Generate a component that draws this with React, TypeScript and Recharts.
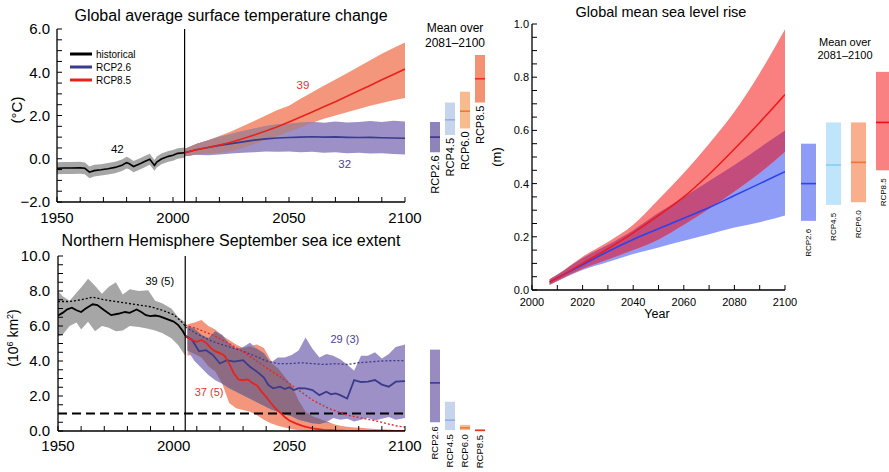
import React from 'react';
import { ComposedChart, Area, Line, Bar, XAxis, YAxis, ReferenceLine, ReferenceDot } from 'recharts';

const FONT = "'Liberation Sans', Arial, Helvetica, sans-serif";

// ---------- axis ticks ----------
const yearTicks = [1950, 1960, 1970, 1980, 1990, 2000, 2010, 2020, 2030, 2040, 2050, 2060, 2070, 2080, 2090, 2100];
const yearLabels = [1950, 2000, 2050, 2100];
const tempYTicks = [-2, -1.5, -1, -0.5, 0, 0.5, 1, 1.5, 2, 2.5, 3, 3.5, 4, 4.5, 5, 5.5, 6];
const tempYLabels = [-2, 0, 2, 4, 6];
const iceYTicks = [0, 0.5, 1, 1.5, 2, 2.5, 3, 3.5, 4, 4.5, 5, 5.5, 6, 6.5, 7, 7.5, 8, 8.5, 9, 9.5, 10];
const iceYLabels = [0, 2, 4, 6, 8, 10];
const seaXTicks = [2000, 2010, 2020, 2030, 2040, 2050, 2060, 2070, 2080, 2090, 2100];
const seaXLabels = [2000, 2020, 2040, 2060, 2080, 2100];
const seaYTicks = [0, 0.05, 0.1, 0.15, 0.2, 0.25, 0.3, 0.35, 0.4, 0.45, 0.5, 0.55, 0.6, 0.65, 0.7, 0.75, 0.8, 0.85, 0.9, 0.95, 1];
const seaYLabels = [0, 0.2, 0.4, 0.6, 0.8, 1];

// ---------- temperature ----------
const histYears = [1950, 1953, 1956, 1960, 1962, 1964, 1966, 1969, 1972, 1975, 1978, 1980, 1981, 1983, 1986, 1988, 1990, 1992, 1993, 1995, 1998, 2000, 2002, 2005];
const histMean = [-0.44, -0.43, -0.43, -0.42, -0.44, -0.62, -0.55, -0.51, -0.46, -0.40, -0.30, -0.18, -0.22, -0.36, -0.22, -0.12, -0.02, -0.31, -0.15, -0.01, 0.11, 0.16, 0.25, 0.28];
const histLo = [-0.72, -0.70, -0.71, -0.69, -0.72, -0.90, -0.82, -0.77, -0.73, -0.67, -0.57, -0.45, -0.49, -0.62, -0.48, -0.38, -0.28, -0.56, -0.40, -0.26, -0.14, -0.09, 0.00, 0.05];
const histHi = [-0.16, -0.15, -0.15, -0.14, -0.17, -0.36, -0.28, -0.25, -0.20, -0.14, -0.04, 0.09, 0.05, -0.10, 0.04, 0.14, 0.23, -0.06, 0.10, 0.24, 0.36, 0.41, 0.49, 0.52];

const futYears = [2005, 2010, 2015, 2020, 2025, 2030, 2035, 2040, 2045, 2050, 2055, 2060, 2065, 2070, 2075, 2080, 2085, 2090, 2095, 2100];
const t26Mean = [0.28, 0.42, 0.52, 0.62, 0.70, 0.78, 0.86, 0.92, 0.96, 0.98, 1.00, 1.02, 1.00, 1.01, 0.99, 0.98, 0.99, 0.97, 0.96, 0.95];
const t26Lo = [0.12, 0.18, 0.16, 0.20, 0.24, 0.28, 0.30, 0.33, 0.32, 0.34, 0.30, 0.32, 0.28, 0.30, 0.26, 0.28, 0.24, 0.26, 0.22, 0.20];
const t26Hi = [0.45, 0.68, 0.84, 1.02, 1.15, 1.28, 1.40, 1.52, 1.60, 1.62, 1.68, 1.70, 1.66, 1.72, 1.68, 1.70, 1.74, 1.70, 1.76, 1.72];
const t85Mean = [0.28, 0.42, 0.52, 0.64, 0.76, 0.92, 1.10, 1.28, 1.48, 1.70, 1.93, 2.16, 2.40, 2.64, 2.89, 3.14, 3.39, 3.65, 3.90, 4.15];
const t85Lo = [0.12, 0.20, 0.24, 0.28, 0.35, 0.50, 0.68, 0.88, 1.05, 1.25, 1.45, 1.66, 1.85, 2.00, 2.15, 2.30, 2.45, 2.58, 2.70, 2.81];
const t85Hi = [0.45, 0.68, 0.85, 1.05, 1.26, 1.50, 1.75, 2.00, 2.25, 2.45, 2.78, 3.08, 3.37, 3.66, 3.95, 4.25, 4.55, 4.85, 5.12, 5.38];

// ---------- sea ice ----------
const iceHistYears = [1950, 1952, 1954, 1956, 1958, 1960, 1962, 1965, 1967, 1970, 1973, 1976, 1979, 1981, 1984, 1986, 1988, 1990, 1992, 1994, 1996, 1998, 2000, 2002, 2004, 2005];
const iceHistMean = [6.6, 6.75, 6.95, 7.05, 6.9, 6.8, 7.0, 7.24, 7.2, 6.9, 6.62, 6.7, 6.8, 6.75, 6.94, 6.8, 6.62, 6.56, 6.6, 6.55, 6.45, 6.35, 6.25, 6.05, 5.7, 5.45];
const iceHistSubYears = [1950, 1955, 1960, 1965, 1970, 1975, 1980, 1985, 1990, 1995, 2000, 2003, 2005];
const iceHistSub = [7.4, 7.4, 7.5, 7.65, 7.5, 7.4, 7.3, 7.2, 7.1, 6.9, 6.65, 6.3, 6.0];
const iceHistBandYears = [1950, 1952, 1955, 1958, 1960, 1963, 1966, 1969, 1972, 1975, 1978, 1981, 1985, 1989, 1992, 1995, 1999, 2002, 2005];
const iceHistHi = [8.0, 7.7, 7.45, 7.9, 8.2, 8.7, 8.3, 7.85, 8.25, 8.5, 7.8, 8.1, 8.0, 8.05, 7.45, 7.3, 7.0, 6.5, 6.2];
const iceHistLo = [5.4, 5.5, 6.0, 6.2, 5.8, 6.25, 5.7, 6.0, 5.9, 5.7, 5.75, 6.0, 5.95, 5.85, 5.75, 5.6, 5.3, 4.9, 4.3];

const iceFutYears = [2006, 2009, 2012, 2015, 2018, 2021, 2024, 2027, 2030, 2033, 2036, 2039, 2042, 2045, 2048, 2051, 2054, 2057, 2060, 2063, 2066, 2069, 2072, 2075, 2078, 2081, 2084, 2087, 2090, 2093, 2096, 2100];
const i26Hi = [6.0, 5.85, 5.5, 5.3, 5.7, 5.5, 5.0, 4.7, 4.8, 5.05, 4.7, 4.45, 3.9, 4.2, 4.2, 4.35, 4.6, 5.35, 4.7, 4.2, 4.4, 4.3, 4.1, 3.8, 3.45, 4.3, 4.3, 4.5, 4.15, 4.4, 4.8, 4.95];
const i26Lo = [4.6, 4.0, 3.6, 3.2, 2.9, 2.7, 2.45, 2.25, 2.05, 1.85, 1.65, 1.45, 1.25, 1.1, 0.95, 0.85, 0.65, 0.55, 0.45, 0.4, 0.5, 0.75, 0.65, 0.7, 0.55, 0.65, 0.75, 0.6, 0.7, 0.8, 0.65, 0.75];
const i85Hi = [6.1, 6.2, 6.35, 6.0, 5.8, 5.45, 5.2, 4.95, 4.75, 4.85, 4.95, 4.75, 4.05, 3.6, 3.1, 2.6, 1.75, 1.1, 0.85, 0.7, 0.55, 0.4, 0.3, 0.25, 0.2, 0.18, 0.15, 0.12, 0.1, 0.08, 0.06, 0.05];
const i85Lo = [4.3, 4.4, 4.2, 3.7, 3.4, 2.7, 1.6, 1.3, 1.2, 1.1, 0.9, 0.65, 0.45, 0.3, 0.2, 0.1, 0.05, 0.02, 0, 0, 0, 0, 0, 0, 0, 0, 0, 0, 0, 0, 0, 0];

const i26Years = [2005, 2008, 2011, 2014, 2017, 2020, 2023, 2026, 2030, 2033, 2036, 2039, 2041, 2043, 2046, 2048, 2050, 2052, 2054, 2057, 2060, 2063, 2066, 2068, 2070, 2072, 2075, 2078, 2081, 2084, 2087, 2090, 2093, 2096, 2100];
const i26Mean = [5.45, 5.2, 4.55, 4.62, 4.34, 3.86, 4.05, 3.96, 4.05, 3.67, 3.39, 3.05, 2.62, 2.44, 2.53, 2.4, 2.5, 2.34, 2.45, 2.44, 2.34, 2.05, 2.24, 2.1, 2.15, 2.05, 1.86, 2.91, 2.8, 2.82, 2.91, 2.65, 2.53, 2.82, 2.85];
const i26SubYears = [2005, 2010, 2017, 2023, 2029, 2035, 2040, 2045, 2050, 2055, 2060, 2065, 2070, 2075, 2080, 2085, 2090, 2095, 2100];
const i26Sub = [5.95, 5.55, 5.1, 4.85, 4.6, 4.3, 4.0, 3.85, 3.85, 3.9, 3.85, 3.8, 3.85, 3.8, 3.9, 3.95, 4.0, 4.02, 4.02];
const i85Years = [2005, 2008, 2010, 2012, 2014, 2016, 2018, 2020, 2022, 2024, 2026, 2028, 2030, 2032, 2034, 2036, 2038, 2040, 2042, 2044, 2046, 2048, 2050, 2053, 2056, 2060, 2065, 2070, 2075, 2080, 2100];
const i85Mean = [5.4, 5.2, 5.1, 5.2, 5.05, 4.75, 4.55, 4.45, 4.3, 3.85, 3.3, 2.95, 2.9, 2.95, 2.75, 2.6, 2.25, 1.95, 1.6, 1.3, 1.05, 0.8, 0.6, 0.42, 0.28, 0.15, 0.07, 0.03, 0.01, 0, 0];
const i85SubYears = [2005, 2010, 2017, 2024, 2031, 2038, 2046, 2053, 2060, 2067, 2075, 2082, 2089, 2096, 2100];
const i85Sub = [6.05, 5.85, 5.48, 5.0, 4.45, 3.8, 3.1, 2.43, 1.77, 1.29, 0.91, 0.72, 0.53, 0.3, 0.22];

// ---------- sea level ----------
const slYears = [2007, 2010, 2020, 2030, 2040, 2050, 2060, 2070, 2080, 2090, 2100];
const sl85Mean = [0.03, 0.045, 0.10, 0.155, 0.215, 0.28, 0.35, 0.435, 0.53, 0.63, 0.735];
const sl85Lo = [0.02, 0.035, 0.08, 0.115, 0.15, 0.19, 0.245, 0.305, 0.37, 0.44, 0.52];
const sl85Hi = [0.04, 0.057, 0.125, 0.18, 0.245, 0.34, 0.44, 0.55, 0.67, 0.815, 0.98];
const sl26Mean = [0.03, 0.045, 0.095, 0.145, 0.19, 0.23, 0.27, 0.31, 0.355, 0.40, 0.445];
const sl26Lo = [0.02, 0.033, 0.075, 0.105, 0.135, 0.16, 0.185, 0.21, 0.235, 0.255, 0.28];
const sl26Hi = [0.04, 0.057, 0.12, 0.17, 0.225, 0.29, 0.35, 0.41, 0.47, 0.535, 0.60];

// ---------- side bars (mean over 2081-2100) ----------
const rcpNames = ['RCP2.6', 'RCP4.5', 'RCP6.0', 'RCP8.5'];
const tBarMean = [1.0, 1.8, 2.2, 3.7];
const tBarLo = [0.3, 1.1, 1.4, 2.6];
const tBarHi = [1.7, 2.6, 3.1, 4.8];
const iBarMean = [2.75, 0.62, 0.18, 0.035];
const iBarLo = [0.5, 0.05, 0.05, 0.0];
const iBarHi = [4.65, 1.67, 0.35, 0.07];
const sBarMean = [0.40, 0.47, 0.48, 0.63];
const sBarLo = [0.26, 0.32, 0.33, 0.45];
const sBarHi = [0.55, 0.63, 0.63, 0.82];

const tBarFill = ['#8f84ba', '#c7d4ed', '#f9ba8e', '#f39272'];
const tBarLine = ['#3d3286', '#93b1e0', '#f07b2e', '#e63223'];
const iBarFill = ['#978bc1', '#c7d4ed', '#f9ba8e', '#e8402e'];
const iBarLine = ['#3d3a8e', '#8fb0e0', '#f07b2e', '#e63223'];
const sBarFill = ['#8e9cf7', '#bfe5fb', '#f9ae8d', '#f98181'];
const sBarLine = ['#2b45ef', '#86ccf4', '#f27333', '#e8141a'];

// ---------- helpers ----------
const isIn = (arr: number[], v: number) => arr.some((a) => Math.abs(a - v) < 1e-6);
const fmt1 = (v: number) => (v < 0 ? '\u2212' : '') + Math.abs(v).toFixed(1);
const fmtYear = (v: number) => String(Math.round(v));

type Side = 'bottom' | 'top' | 'left' | 'right';
function makeTick(side: Side, len: number, labels: number[] | null, fmt: (v: number) => string, fontSize: number, off: number) {
  return (p: any) => {
    const { x, y, payload } = p;
    const v = Number(payload.value);
    const show = labels !== null && isIn(labels, v);
    let l: any = null;
    let t: any = null;
    if (side === 'bottom') {
      l = <line x1={x} x2={x} y1={y} y2={y - len} stroke="#000" strokeWidth={1} />;
      if (show) t = <text x={x} y={y + off} textAnchor="middle" fontSize={fontSize} fontFamily={FONT} fill="#000">{fmt(v)}</text>;
    } else if (side === 'top') {
      l = <line x1={x} x2={x} y1={y} y2={y + len} stroke="#000" strokeWidth={1} />;
    } else if (side === 'left') {
      l = <line x1={x} x2={x + len} y1={y} y2={y} stroke="#000" strokeWidth={1} />;
      if (show) t = <text x={x - off} y={y + fontSize * 0.36} textAnchor="end" fontSize={fontSize} fontFamily={FONT} fill="#000">{fmt(v)}</text>;
    } else {
      l = <line x1={x} x2={x - len} y1={y} y2={y} stroke="#000" strokeWidth={1} />;
    }
    return <g>{l}{t}</g>;
  };
}

const axisLine = { stroke: '#000', strokeWidth: 1.3 };

function overlap(lo1: number[], hi1: number[], lo2: number[], hi2: number[], i: number): [number, number] {
  const lo = Math.max(lo1[i], lo2[i]);
  const hi = Math.min(hi1[i], hi2[i]);
  return hi > lo ? [lo, hi] : [hi, hi];
}

// ---------- rows ----------
const tHistRows = histYears.map((year, i) => ({ year, mean: histMean[i], band: [histLo[i], histHi[i]] }));
const tFutRows = futYears.map((year, i) => ({
  year,
  m26: t26Mean[i],
  m85: t85Mean[i],
  b26: [t26Lo[i], t26Hi[i]],
  b85: [t85Lo[i], t85Hi[i]],
  ov: overlap(t26Lo, t26Hi, t85Lo, t85Hi, i),
}));

const iHistRows = iceHistYears.map((year, i) => ({ year, mean: iceHistMean[i] }));
const iHistSubRows = iceHistSubYears.map((year, i) => ({ year, sub: iceHistSub[i] }));
const iHistBandRows = iceHistBandYears.map((year, i) => ({ year, band: [iceHistLo[i], iceHistHi[i]] }));
const iFutBandRows = iceFutYears.map((year, i) => ({
  year,
  b26: [i26Lo[i], i26Hi[i]],
  b85: [i85Lo[i], i85Hi[i]],
  ov: overlap(i26Lo, i26Hi, i85Lo, i85Hi, i),
}));
const i26Rows = i26Years.map((year, i) => ({ year, v: i26Mean[i] }));
const i26SubRows = i26SubYears.map((year, i) => ({ year, v: i26Sub[i] }));
const i85Rows = i85Years.map((year, i) => ({ year, v: i85Mean[i] }));
const i85SubRows = i85SubYears.map((year, i) => ({ year, v: i85Sub[i] }));

const slRows = slYears.map((year, i) => ({
  year,
  m26: sl26Mean[i],
  m85: sl85Mean[i],
  b26: [sl26Lo[i], sl26Hi[i]],
  b85: [sl85Lo[i], sl85Hi[i]],
  ov: overlap(sl26Lo, sl26Hi, sl85Lo, sl85Hi, i),
}));

// ---------- colours ----------
const C_HIST_BAND = '#a6a6a6';
const C_T26_BAND = '#9c90c6';
const C_T85_BAND = '#f3967b';
const C_T_OV = '#b0838b';
const C_T26 = '#3b3a8c';
const C_T85 = '#e8231e';
const C_I_OV = '#8d6c83';

const Annot = (text: string, color: string, size: number) => (p: any) => (
  <text x={p.cx} y={p.cy + size * 0.36} textAnchor="middle" fontSize={size} fontFamily={FONT} fill={color}>{text}</text>
);

function SideBars(props: {
  lo: number[]; hi: number[]; mean: number[]; fills: string[]; lines: string[];
  domain: [number, number]; width: number; height: number; top: number; bottom: number;
  barSize: number; fontSize: number; gap: number;
}) {
  const { lo, hi, mean, fills, lines, domain, width, height, top, bottom, barSize, fontSize, gap } = props;
  const rows = rcpNames.map((name, i) => ({ name, range: [lo[i], hi[i]], mean: mean[i], fill: fills[i], line: lines[i] }));
  const shape = (p: any) => {
    const pl = p.payload;
    const y0 = Math.min(p.y, p.y + p.height);
    const h = Math.max(Math.abs(p.height), 1);
    const [a, b] = pl.range;
    const my = y0 + h * (b - pl.mean) / (b - a);
    const cx = p.x + p.width / 2;
    return (
      <g>
        <rect x={p.x} y={y0} width={p.width} height={h} fill={pl.fill} />
        <line x1={p.x} x2={p.x + p.width} y1={my} y2={my} stroke={pl.line} strokeWidth={1.6} />
        <text transform={`translate(${cx + fontSize * 0.36},${y0 + h + gap}) rotate(-90)`} textAnchor="end" fontSize={fontSize} fontFamily={FONT} fill="#000">{pl.name}</text>
      </g>
    );
  };
  return (
    <ComposedChart width={width} height={height} data={rows} margin={{ top, bottom, left: 0, right: 0 }} style={{ overflow: 'visible' }}>
      <XAxis dataKey="name" type="category" hide />
      <YAxis type="number" domain={domain} hide />
      <Bar dataKey="range" barSize={barSize} shape={shape} isAnimationActive={false} />
    </ComposedChart>
  );
}

function TempChart() {
  return (
    <ComposedChart width={440} height={226} margin={{ top: 29, right: 35, bottom: 0, left: 0 }}>
      <XAxis dataKey="year" type="number" domain={[1950, 2100]} ticks={yearTicks} interval={0} allowDataOverflow height={24}
        tickLine={false} tickSize={0} tickMargin={0} axisLine={axisLine} tick={makeTick('bottom', 5, yearLabels, fmtYear, 15, 21)} />
      <XAxis xAxisId="top" orientation="top" dataKey="year" type="number" domain={[1950, 2100]} ticks={yearTicks} interval={0} allowDataOverflow height={0}
        tickLine={false} tickSize={0} tickMargin={0} axisLine={axisLine} tick={makeTick('top', 5, null, fmtYear, 15, 0)} />
      <YAxis type="number" domain={[-2, 6]} ticks={tempYTicks} interval={0} allowDataOverflow width={57}
        tickLine={false} tickSize={0} tickMargin={0} axisLine={axisLine} tick={makeTick('left', 5, tempYLabels, fmt1, 15, 7)} />
      <YAxis yAxisId="right" orientation="right" type="number" domain={[-2, 6]} ticks={tempYTicks} interval={0} allowDataOverflow width={0}
        tickLine={false} tickSize={0} tickMargin={0} axisLine={axisLine} tick={makeTick('right', 5, null, fmt1, 15, 0)} />
      <Area data={tHistRows} dataKey="band" type="linear" stroke="none" fill={C_HIST_BAND} fillOpacity={1} isAnimationActive={false} dot={false} activeDot={false} />
      <Area data={tFutRows} dataKey="b85" type="linear" stroke="none" fill={C_T85_BAND} fillOpacity={1} isAnimationActive={false} dot={false} activeDot={false} />
      <Area data={tFutRows} dataKey="b26" type="linear" stroke="none" fill={C_T26_BAND} fillOpacity={1} isAnimationActive={false} dot={false} activeDot={false} />
      <Area data={tFutRows} dataKey="ov" type="linear" stroke="none" fill={C_T_OV} fillOpacity={1} isAnimationActive={false} dot={false} activeDot={false} />
      <Line data={tHistRows} dataKey="mean" type="linear" stroke="#000" strokeWidth={1.6} dot={false} activeDot={false} isAnimationActive={false} />
      <Line data={tFutRows} dataKey="m26" type="linear" stroke={C_T26} strokeWidth={1.6} dot={false} activeDot={false} isAnimationActive={false} />
      <Line data={tFutRows} dataKey="m85" type="linear" stroke={C_T85} strokeWidth={1.6} dot={false} activeDot={false} isAnimationActive={false} />
      <ReferenceLine x={2005} stroke="#000" strokeWidth={1.2} />
      <ReferenceDot x={1976} y={0.46} r={0} shape={Annot('42', '#000', 11.5)} />
      <ReferenceDot x={2056} y={3.43} r={0} shape={Annot('39', '#e0362a', 11.5)} />
      <ReferenceDot x={2074} y={-0.23} r={0} shape={Annot('32', '#4a3f8f', 11.5)} />
    </ComposedChart>
  );
}

function IceChart() {
  const lineCommon = { dot: false, activeDot: false, isAnimationActive: false, type: 'linear' as const };
  return (
    <ComposedChart width={440} height={246} margin={{ top: 30, right: 35, bottom: 0, left: 0 }}>
      <XAxis dataKey="year" type="number" domain={[1950, 2100]} ticks={yearTicks} interval={0} allowDataOverflow height={41}
        tickLine={false} tickSize={0} tickMargin={0} axisLine={axisLine} tick={makeTick('bottom', 5, yearLabels, fmtYear, 15, 20)} />
      <XAxis xAxisId="top" orientation="top" dataKey="year" type="number" domain={[1950, 2100]} ticks={yearTicks} interval={0} allowDataOverflow height={0}
        tickLine={false} tickSize={0} tickMargin={0} axisLine={axisLine} tick={makeTick('top', 5, null, fmtYear, 15, 0)} />
      <YAxis type="number" domain={[0, 10]} ticks={iceYTicks} interval={0} allowDataOverflow width={58}
        tickLine={false} tickSize={0} tickMargin={0} axisLine={axisLine} tick={makeTick('left', 5, iceYLabels, fmt1, 15, 8)} />
      <YAxis yAxisId="right" orientation="right" type="number" domain={[0, 10]} ticks={iceYTicks} interval={0} allowDataOverflow width={0}
        tickLine={false} tickSize={0} tickMargin={0} axisLine={axisLine} tick={makeTick('right', 5, null, fmt1, 15, 0)} />
      <Area data={iHistBandRows} dataKey="band" type="linear" stroke="none" fill={C_HIST_BAND} fillOpacity={1} isAnimationActive={false} dot={false} activeDot={false} />
      <Area data={iFutBandRows} dataKey="b85" type="linear" stroke="none" fill={C_T85_BAND} fillOpacity={1} isAnimationActive={false} dot={false} activeDot={false} />
      <Area data={iFutBandRows} dataKey="b26" type="linear" stroke="none" fill={C_T26_BAND} fillOpacity={1} isAnimationActive={false} dot={false} activeDot={false} />
      <Area data={iFutBandRows} dataKey="ov" type="linear" stroke="none" fill={C_I_OV} fillOpacity={1} isAnimationActive={false} dot={false} activeDot={false} />
      <ReferenceLine y={1} stroke="#000" strokeWidth={1.8} strokeDasharray="9 5" />
      <Line data={iHistSubRows} dataKey="sub" stroke="#000" strokeWidth={1.3} strokeDasharray="2 2" {...lineCommon} />
      <Line data={iHistRows} dataKey="mean" stroke="#000" strokeWidth={1.8} {...lineCommon} />
      <Line data={i26SubRows} dataKey="v" stroke={C_T26} strokeWidth={1.3} strokeDasharray="2 2" {...lineCommon} />
      <Line data={i85SubRows} dataKey="v" stroke={C_T85} strokeWidth={1.3} strokeDasharray="2 2" {...lineCommon} />
      <Line data={i26Rows} dataKey="v" stroke={C_T26} strokeWidth={1.8} {...lineCommon} />
      <Line data={i85Rows} dataKey="v" stroke={C_T85} strokeWidth={1.8} {...lineCommon} />
      <ReferenceLine x={2005} stroke="#000" strokeWidth={1.2} />
      <ReferenceDot x={1994} y={8.57} r={0} shape={Annot('39 (5)', '#000', 11)} />
      <ReferenceDot x={2074} y={5.25} r={0} shape={Annot('29 (3)', '#4a3f8f', 11)} />
      <ReferenceDot x={2015.3} y={2.22} r={0} shape={Annot('37 (5)', '#e0362a', 11)} />
    </ComposedChart>
  );
}

function SeaChart() {
  return (
    <ComposedChart width={360} height={330} margin={{ top: 24, right: 15, bottom: 0, left: 0 }}>
      <XAxis dataKey="year" type="number" domain={[2000, 2100]} ticks={seaXTicks} interval={0} allowDataOverflow height={40}
        tickLine={false} tickSize={0} tickMargin={0} axisLine={axisLine} tick={makeTick('bottom', 5, seaXLabels, fmtYear, 11, 16)} />
      <XAxis xAxisId="top" orientation="top" dataKey="year" type="number" domain={[2000, 2100]} ticks={seaXTicks} interval={0} allowDataOverflow height={0}
        tickLine={false} tickSize={0} tickMargin={0} axisLine={axisLine} tick={makeTick('top', 5, null, fmtYear, 11, 0)} />
      <YAxis type="number" domain={[0, 1]} ticks={seaYTicks} interval={0} allowDataOverflow width={92}
        tickLine={false} tickSize={0} tickMargin={0} axisLine={axisLine} tick={makeTick('left', 5, seaYLabels, (v) => v.toFixed(1), 11, 3)} />
      <YAxis yAxisId="right" orientation="right" type="number" domain={[0, 1]} ticks={seaYTicks} interval={0} allowDataOverflow width={0}
        tickLine={false} tickSize={0} tickMargin={0} axisLine={axisLine} tick={makeTick('right', 5, null, (v) => v.toFixed(1), 11, 0)} />
      <Area data={slRows} dataKey="b26" type="monotone" stroke="none" fill="#8f9df7" fillOpacity={1} isAnimationActive={false} dot={false} activeDot={false} />
      <Area data={slRows} dataKey="b85" type="monotone" stroke="none" fill="#fa8080" fillOpacity={1} isAnimationActive={false} dot={false} activeDot={false} />
      <Area data={slRows} dataKey="ov" type="monotone" stroke="none" fill="#c24c7c" fillOpacity={1} isAnimationActive={false} dot={false} activeDot={false} />
      <Line data={slRows} dataKey="m26" type="monotone" stroke="#2a44ee" strokeWidth={1.6} dot={false} activeDot={false} isAnimationActive={false} />
      <Line data={slRows} dataKey="m85" type="monotone" stroke="#ee1c1c" strokeWidth={1.6} dot={false} activeDot={false} isAnimationActive={false} />
    </ComposedChart>
  );
}

function Overlay() {
  const legend = [
    { name: 'historical', color: '#000', y: 54 },
    { name: 'RCP2.6', color: C_T26, y: 67 },
    { name: 'RCP8.5', color: C_T85, y: 80 },
  ];
  return (
    <svg width={889} height={472} style={{ position: 'absolute', left: 0, top: 0, pointerEvents: 'none' }} fontFamily={FONT}>
      <text x={231} y={21} textAnchor="middle" fontSize={16} fill="#000">Global average surface temperature change</text>
      <text x={231} y={246} textAnchor="middle" fontSize={16} fill="#000">Northern Hemisphere September sea ice extent</text>
      <text x={661} y={17} textAnchor="middle" fontSize={14.5} fill="#000">Global mean sea level rise</text>
      <text transform="translate(21.5,110) rotate(-90)" textAnchor="middle" fontSize={15} fill="#000">(°C)</text>
      <text transform="translate(18,338) rotate(-90)" textAnchor="middle" fontSize={14} fill="#000">
        (10<tspan dy={-5} fontSize={9}>6</tspan><tspan dy={5}> km</tspan><tspan dy={-5} fontSize={9}>2</tspan><tspan dy={5}>)</tspan>
      </text>
      <text transform="translate(501,157) rotate(-90)" textAnchor="middle" fontSize={13} fill="#000">(m)</text>
      <text x={657} y={318} textAnchor="middle" fontSize={12.5} fill="#000">Year</text>
      <text x={455} y={31.5} textAnchor="middle" fontSize={12} fill="#000">Mean over</text>
      <text x={455} y={47} textAnchor="middle" fontSize={12} fill="#000">2081–2100</text>
      <text x={845} y={45.5} textAnchor="middle" fontSize={11} fill="#000">Mean over</text>
      <text x={845} y={59} textAnchor="middle" fontSize={11} fill="#000">2081–2100</text>
      {legend.map((l) => (
        <g key={l.name}>
          <line x1={70} x2={92} y1={l.y} y2={l.y} stroke={l.color} strokeWidth={3} />
          <text x={96} y={l.y + 3.6} fontSize={10} fill="#000">{l.name}</text>
        </g>
      ))}
    </svg>
  );
}

export default function App() {
  return (
    <div style={{ position: 'absolute', left: 0, top: 0, width: 889, height: 472, overflow: 'hidden', background: '#fff', fontFamily: FONT }}>
      <div style={{ position: 'absolute', left: 0, top: 0 }}><TempChart /></div>
      <div style={{ position: 'absolute', left: 0, top: 226 }}><IceChart /></div>
      <div style={{ position: 'absolute', left: 440, top: 0 }}><SeaChart /></div>
      <div style={{ position: 'absolute', left: 427, top: 0 }}>
        <SideBars lo={tBarLo} hi={tBarHi} mean={tBarMean} fills={tBarFill} lines={tBarLine} domain={[-2, 6]}
          width={60} height={226} top={29} bottom={24} barSize={10} fontSize={11} gap={3} />
      </div>
      <div style={{ position: 'absolute', left: 427, top: 226 }}>
        <SideBars lo={iBarLo} hi={iBarHi} mean={iBarMean} fills={iBarFill} lines={iBarLine} domain={[0, 10]}
          width={60} height={246} top={30} bottom={41} barSize={10} fontSize={9.5} gap={4} />
      </div>
      <div style={{ position: 'absolute', left: 796, top: 0 }}>
        <SideBars lo={sBarLo} hi={sBarHi} mean={sBarMean} fills={sBarFill} lines={sBarLine} domain={[0, 1]}
          width={100} height={330} top={24} bottom={40} barSize={15} fontSize={8} gap={8} />
      </div>
      <Overlay />
    </div>
  );
}
